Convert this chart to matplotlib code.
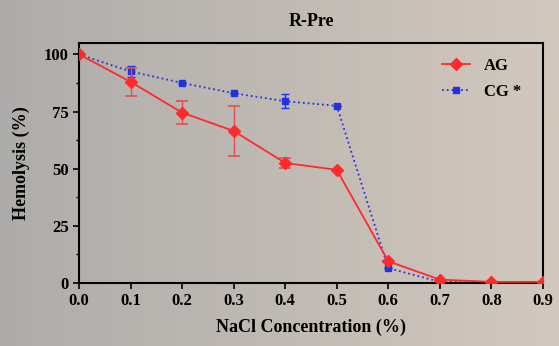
import numpy as np
import matplotlib
matplotlib.use("Agg")
import matplotlib.pyplot as plt
from matplotlib.ticker import MultipleLocator
from matplotlib.lines import Line2D

conc = [0.0, 0.1, 0.2, 0.3, 0.4, 0.5, 0.6, 0.7, 0.8, 0.9]
ag = [100, 88, 74.5, 66.5, 52.5, 49.5, 9.5, 1.5, 0.5, 0.5]
ag_err = [0, 6, 5, 11, 2, 0, 0, 0, 0, 0]
cg = [100, 92.5, 87.5, 83, 79.5, 77.5, 6.5, 0.5, 0.2, 0.2]
cg_err = [0, 2.5, 0, 0, 3, 0, 0, 0, 0, 0]

plt.rcParams['font.family'] = ['Liberation Serif', 'DejaVu Serif']
plt.rcParams['font.weight'] = 'bold'

fig = plt.figure(figsize=(5.59, 3.46), dpi=100)
bg = fig.add_axes([0, 0, 1, 1], zorder=-10)
grad = np.linspace(0, 1, 256)[None, :, None]
c0 = np.array([174, 172, 170]) / 255
c1 = np.array([210, 200, 190]) / 255
img = c0 + (c1 - c0) * grad
img = np.repeat(img, 2, axis=0)
bg.imshow(img, aspect='auto', extent=[0, 1, 0, 1])
bg.axis('off')

ax = fig.add_axes([0.1413, 0.182, 0.83, 0.694])
ax.patch.set_alpha(0)

red = '#ff2a2a'
blue = '#2233dd'
ax.errorbar(conc, ag, yerr=ag_err, color=red, marker='D', markersize=6,
            lw=1.3, capsize=4, elinewidth=1.0, capthick=1.2, ecolor='#e05050',
            zorder=3)
ax.errorbar(conc, cg, yerr=cg_err, color=blue, marker='s', markersize=5,
            lw=1.3, ls=':', capsize=3, elinewidth=1.0, capthick=1.0,
            zorder=2)

ax.set_xlim(0, 0.9)
ax.set_ylim(0, 105)
ax.set_xticks(conc)
ax.set_xticklabels([f"{v:.1f}" for v in conc])
ax.set_yticks([0, 25, 50, 75, 100])
ax.yaxis.set_minor_locator(MultipleLocator(12.5))
ax.tick_params(axis='both', labelsize=12, direction='out', length=4, width=1.2)
ax.tick_params(axis='y', which='minor', length=2.5, width=1)
for s in ax.spines.values():
    s.set_linewidth(1.5)

ax.set_title('R-Pre', fontsize=13, fontweight='bold', pad=12)
ax.set_xlabel('NaCl Concentration (%)', fontsize=13, fontweight='bold', labelpad=7)
ax.set_ylabel('Hemolysis (%)', fontsize=13, fontweight='bold', labelpad=10)

handles = [Line2D([], [], color=red, marker='D', markersize=6, lw=1.3),
           Line2D([], [], color=blue, marker='s', markersize=5, lw=1.3, ls=':')]
ax.legend(handles, ['AG', 'CG *'], loc='upper right', frameon=False, fontsize=12,
          handlelength=1.7, borderaxespad=0.5, labelspacing=0.6,
          bbox_to_anchor=(0.985, 1.0))

fig.savefig('out.png', dpi=100)
